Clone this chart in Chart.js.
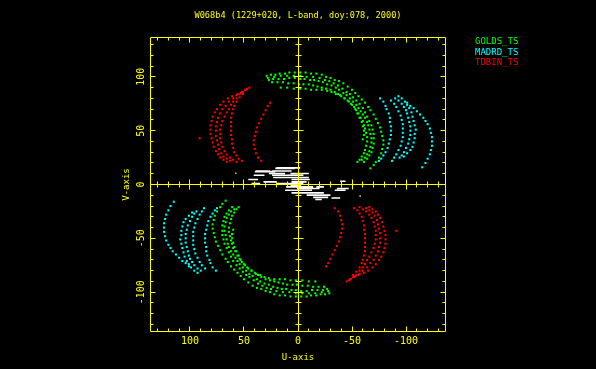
<!DOCTYPE html>
<html><head><meta charset="utf-8">
<script src="https://cdn.jsdelivr.net/npm/chart.js@4"></script>
<style>html,body{margin:0;padding:0;background:#000;}canvas{display:block;}</style>
</head><body>
<canvas id="c" width="596" height="369"></canvas>
<script>
// ---------------- data ----------------
const titleText = 'W068b4 (1229+020, L-band, doy:078, 2000)';
const xTitle = 'U-axis';
const yTitle = 'V-axis';
const stationNames = ['GOLDS_TS', 'MADRD_TS', 'TDBIN_TS'];
const tickLabels = [100, 50, 0, -50, -100];
const minorTicks = [-130,-120,-110,-100,-90,-80,-70,-60,-50,-40,-30,-20,-10,0,10,20,30,40,50,60,70,80,90,100,110,120,130];

// (u, v) samples of the upper half; the conjugate (-u, -v) points are plotted too
const goldsUV = [
  [29,101],[25,102],[21,102],[17,103],[12,103],[8,104],[3,104],[-2,104],[-7,104],[-12,103],[-17,103],[-22,102],[-26,100],[-30,99],[-34,97],[-38,96],[-42,94],[-46,91],[-50,88],[-53,85],[-56,82],[-59,79],[-62,76],[-65,72],[-67,69],[-70,65],[-72,61],[-74,57],[-76,53],[-77,49],[-78,45],[-79,41],[-79,37],[-78,33],[-77,29],[-75,25],[-72,21],[-70,18],[-67,15],
  [28,99],[22,100],[16,101],[10,101],[4,101],[-2,101],[-8,100],[-14,100],[-20,99],[-25,97],[-29,96],[-33,94],[-37,92],[-41,89],[-45,86],[-48,84],[-51,81],[-54,78],[-57,75],[-60,71],[-62,67],[-64,63],[-66,59],[-68,55],[-69,51],[-70,47],[-70,43],[-70,38],[-69,34],[-68,30],[-66,27],[-64,24],[-61,21],
  [27,97],[23,98],[18,98],[13,98],[8,99],[3,99],[-2,98],[-6,98],[-11,97],[-15,97],[-19,96],[-23,95],[-27,93],[-31,92],[-35,90],[-38,88],[-42,85],[-45,83],[-48,80],[-51,77],[-54,74],[-56,71],[-58,68],[-60,65],[-62,62],[-64,58],[-65,55],[-66,51],[-67,47],[-68,43],[-68,39],[-67,35],[-66,31],[-64,28],[-62,25],[-59,23],
  [24,95],[19,95],[14,95],[9,94],[4,94],[-1,93],[-5,93],[-10,93],[-14,92],[-18,91],[-22,90],[-26,89],[-30,88],[-34,86],[-37,84],[-40,82],[-43,80],[-46,78],[-49,75],[-52,72],[-54,69],[-56,66],[-58,62],[-60,59],[-61,55],[-62,52],[-63,48],[-64,44],[-64,40],[-63,36],[-62,32],[-61,29],[-59,26],[-57,23],[-55,21],
  [16,90],[10,90],[4,89],[-2,89],[-7,89],[-12,88],[-17,88],[-22,88],[-27,87],[-31,86],[-35,84],[-39,83],[-43,80],[-47,77],[-50,74],[-53,70],[-55,66],[-57,62],[-59,58],[-60,54],[-61,50],[-61,46],[-60,42]
];
const madrdUV = [
  [-101,76],[-104,73],[-107,71],[-110,68],[-113,65],[-116,62],[-118,59],[-120,56],[-122,52],[-123,48],[-124,44],[-124,40],[-124,36],[-123,32],[-122,28],[-120,24],[-118,20],[-115,16],
  [-93,82],[-96,80],[-99,77],[-101,74],[-103,71],[-105,67],[-106,63],[-107,59],[-108,55],[-109,51],[-108,47],[-108,43],[-107,39],[-106,35],[-104,32],[-101,29],[-98,26],
  [-90,80],[-93,78],[-96,75],[-98,72],[-100,69],[-101,66],[-102,62],[-103,58],[-104,54],[-104,50],[-104,46],[-103,42],[-102,38],[-100,34],[-98,30],[-96,27],[-94,25],
  [-86,78],[-89,75],[-91,72],[-93,68],[-95,64],[-96,60],[-97,56],[-97,52],[-97,48],[-97,44],[-96,40],[-95,36],[-93,32],[-91,28],[-89,25],[-87,22],
  [-76,80],[-79,77],[-81,73],[-82,70],[-84,66],[-85,62],[-85,58],[-86,54],[-86,50],[-86,46],[-85,42],[-84,38],[-83,34],[-81,30],[-79,27],[-77,24],[-75,22]
];
const tdbinUV = [
  [45,90],[49,88],[53,85],[57,83],[61,82],[65,80],[69,77],[72,74],[75,70],[77,67],[79,63],[80,59],[81,55],[81,51],[81,47],[80,43],[79,39],[78,35],[76,31],[74,28],[72,25],[69,23],[66,21],[91,43],
  [47,89],[52,86],[56,84],[60,80],[64,77],[67,73],[70,70],[72,66],[74,62],[75,58],[76,54],[76,50],[76,45],[75,41],[74,37],[73,33],[71,29],[69,26],[66,24],[63,22],
  [51,86],[54,84],[57,80],[60,77],[62,74],[64,70],[66,67],[68,63],[70,59],[71,55],[72,51],[72,47],[72,43],[71,39],[70,35],[68,31],[66,28],[63,25],[60,23],[57,21],
  [48,88],[51,84],[54,81],[57,77],[59,73],[60,70],[61,66],[62,62],[62,58],[62,54],[62,50],[62,46],[61,42],[61,38],[60,34],[59,30],[57,27],[55,24],[52,22],
  [26,76],[28,73],[30,69],[32,65],[34,61],[36,57],[38,53],[39,49],[40,45],[41,41],[41,37],[40,33],[39,29],[37,25],[34,22]
];
// short-baseline tracks near the origin: [uStart, uEnd, v]
const whiteTracks = [
  [21,3,15],[20,-2,15.4],[40,21,12],[39,26,12.6],[24,6,12.6],[27,12,10.2],[7,-10,10.2],[58,57,10.5],
  [41,31,8.6],[24,-5,8.6],[23,-10,6.5],[46,37,4.6],[6,-11,4.6],[32,20,2.4],[6,-8,2.4],[-39,-44,3],
  [43,35,0.9],[20,-5,0.9],[7,-3,-0.6],[11,-14,-2.2],[-17,-24,-2.2],[1,-20,-3.7],[-36,-47,-3.7],
  [12,-13,-5.3],[-34,-44,-5.3],[6,-24,-7.8],[-8,-30,-9.9],[-58,-57,-10.8],[-14,-28,-12],[-31,-39,-12.5],[-16,-22,-14]
];

// ---------------- build ----------------
const YEL = '#ffff00';
const colors = ['#00ff00', '#00ffff', '#ff0000'];
function withConjugates(list) {
  const out = [];
  list.forEach(([u, v]) => { out.push({x: u, y: v}); out.push({x: -u, y: -v}); });
  return out;
}
const whiteData = [];
whiteTracks.forEach(([u1, u2, v]) => {
  whiteData.push({x: u1, y: v}, {x: u2, y: v}, {x: u2, y: null});
});
const stationData = [goldsUV, madrdUV, tdbinUV];
const datasets = stationData.map((d, i) => ({
  label: stationNames[i],
  data: withConjugates(d),
  pointStyle: 'rect',
  pointRadius: 1.45,
  borderWidth: 0,
  backgroundColor: colors[i],
  borderColor: colors[i]
}));
datasets.unshift({
  label: '',
  data: whiteData,
  showLine: true,
  spanGaps: false,
  pointRadius: 0,
  borderColor: '#ffffff',
  borderWidth: 1.6
});

const framePlugin = {
  id: 'uvframe',
  beforeDraw(chart) {
    const ctx = chart.ctx;
    ctx.save();
    ctx.fillStyle = '#000';
    ctx.fillRect(0, 0, chart.width, chart.height);
    ctx.restore();
  },
  afterDatasetsDraw(chart) {
    const {ctx, chartArea: a, scales: {x, y}} = chart;
    const px = v => Math.floor(x.getPixelForValue(v)) + 0.5;
    const py = v => Math.floor(y.getPixelForValue(v)) + 0.5;
    ctx.save();
    ctx.strokeStyle = YEL;
    ctx.lineWidth = 1;
    const L = a.left + 0.5, R = a.right - 0.5, T = a.top + 0.5, B = a.bottom - 0.5;
    ctx.beginPath();
    ctx.rect(L, T, R - L, B - T);
    const x0 = px(0), y0 = py(0);
    ctx.moveTo(x0, T); ctx.lineTo(x0, B);
    ctx.moveTo(L, y0); ctx.lineTo(R, y0);
    minorTicks.forEach(v => {
      const len = (v % 50 === 0) ? 5 : 3;
      const X = px(v), Y = py(v);
      ctx.moveTo(X, B); ctx.lineTo(X, B - len);
      ctx.moveTo(X, T); ctx.lineTo(X, T + len);
      ctx.moveTo(X, y0 - len); ctx.lineTo(X, y0 + len);
      ctx.moveTo(L, Y); ctx.lineTo(L + len, Y);
      ctx.moveTo(R, Y); ctx.lineTo(R - len, Y);
      ctx.moveTo(x0 - len, Y); ctx.lineTo(x0 + len, Y);
    });
    ctx.stroke();

    ctx.fillStyle = YEL;
    ctx.textBaseline = 'middle';
    ctx.textAlign = 'center';
    ctx.font = '10px "DejaVu Sans Mono"';
    tickLabels.forEach(v => {
      ctx.fillText(String(v), x.getPixelForValue(v), a.bottom + 9);
    });
    tickLabels.forEach(v => {
      ctx.save();
      ctx.translate(a.left - 9, y.getPixelForValue(v));
      ctx.rotate(-Math.PI / 2);
      ctx.fillText(String(v), 0, 0);
      ctx.restore();
    });
    ctx.font = '9px "DejaVu Sans Mono"';
    ctx.fillText(xTitle, x.getPixelForValue(0), a.bottom + 26);
    ctx.save();
    ctx.translate(a.left - 23, y.getPixelForValue(0));
    ctx.rotate(-Math.PI / 2);
    ctx.fillText(yTitle, 0, 0);
    ctx.restore();
    ctx.font = '8.6px "DejaVu Sans Mono"';
    ctx.fillText(titleText, x.getPixelForValue(0), 16);

    ctx.textAlign = 'left';
    ctx.font = '9px "DejaVu Sans Mono"';
    stationNames.forEach((n, i) => {
      ctx.fillStyle = colors[i];
      ctx.fillText(n, 475, 42 + i * 10.5);
    });
    ctx.restore();
  }
};

new Chart(document.getElementById('c'), {
  type: 'scatter',
  data: {datasets},
  options: {
    responsive: false,
    animation: false,
    devicePixelRatio: 1,
    layout: {padding: {left: 150, right: 150, top: 37, bottom: 37}},
    plugins: {legend: {display: false}, title: {display: false}, tooltip: {enabled: false}},
    scales: {
      x: {type: 'linear', min: -137, max: 137, reverse: true, display: false},
      y: {type: 'linear', min: -137, max: 137, display: false}
    }
  },
  plugins: [framePlugin]
});
</script>
</body></html>
